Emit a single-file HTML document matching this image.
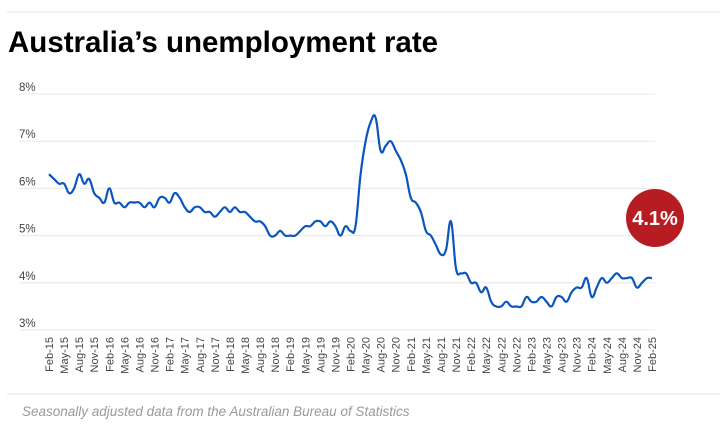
<!DOCTYPE html>
<html><head><meta charset="utf-8"><style>
body{margin:0;background:#fff;width:726px;height:431px;overflow:hidden;font-family:"Liberation Sans",Arial,sans-serif}
</style></head><body>
<svg width="726" height="431" viewBox="0 0 726 431">
<line x1="7" y1="12" x2="720" y2="12" stroke="#e3e3e3" stroke-width="1"/>
<text x="8" y="52" font-size="29.5" font-weight="bold" fill="#000">Australia’s unemployment rate</text>
<g id="grid"></g>
<g id="yl"></g>
<g id="xl"></g>
<path id="line" fill="none" stroke="#0b55bd" stroke-width="2.2" stroke-linejoin="round"/>
<g>
<circle cx="655" cy="218" r="29" fill="#b71c22"/>
<text x="655" y="225" font-size="20" font-weight="bold" fill="#fff" text-anchor="middle">4.1%</text>
</g>
<line x1="7" y1="394" x2="720" y2="394" stroke="#e3e3e3" stroke-width="1"/>
<text x="22" y="416" font-size="13.5" font-style="italic" fill="#999">Seasonally adjusted data from the Australian Bureau of Statistics</text>
</svg>
<script>
const yTicks=[3,4,5,6,7,8];
const months=["Feb","May","Aug","Nov"];
const values=[6.3,6.2,6.1,6.1,5.9,6.0,6.3,6.1,6.2,5.9,5.8,5.7,6.0,
5.7,5.7,5.6,5.7,5.7,5.7,5.6,5.7,5.6,5.8,5.8,5.7,5.9,
5.8,5.6,5.5,5.6,5.6,5.5,5.5,5.4,5.5,5.6,5.5,5.6,5.5,5.5,5.4,5.3,5.3,5.2,
5.0,5.0,5.1,5.0,5.0,5.0,5.1,5.2,5.2,5.3,5.3,5.2,5.3,5.2,5.0,5.2,5.1,5.2,
6.3,7.0,7.4,7.5,6.8,6.9,7.0,6.8,6.6,6.3,5.8,
5.7,5.5,5.1,5.0,4.8,4.6,4.7,5.3,4.3,4.2,4.2,4.0,4.0,3.8,3.9,
3.6,3.5,3.5,3.6,3.5,3.5,3.5,3.7,3.6,3.6,3.7,3.6,3.5,3.7,3.7,3.6,3.8,3.9,3.9,
4.1,3.7,3.9,4.1,4.0,4.1,4.2,4.1,4.1,4.1,3.9,4.0,4.1,4.1];
const NS="http://www.w3.org/2000/svg";
const x=i=>49+i*(652-49)/120;
const y=v=>330-(v-3)*47.2;
const grid=document.getElementById('grid'),yl=document.getElementById('yl'),xl=document.getElementById('xl');
yTicks.forEach(t=>{
 const l=document.createElementNS(NS,'line');
 
 
 l.setAttribute('x1',19);l.setAttribute('x2',655);l.setAttribute('y1',y(t));l.setAttribute('y2',y(t));
 l.setAttribute('stroke','#e8e8e8');l.setAttribute('stroke-width','1');grid.appendChild(l);
 const tx=document.createElementNS(NS,'text');
 
 
 tx.setAttribute('x',19);tx.setAttribute('y',y(t)-3);tx.setAttribute('font-size','11.5');tx.setAttribute('fill','#444');
 tx.textContent=t+'%';yl.appendChild(tx);
});
for(let i=0;i<values.length;i+=3){
 const yr=15+Math.floor((i+1)/12);
 const lab=months[(i/3)%4]+'-'+yr;
 const tx=document.createElementNS(NS,'text');
 
 
 const cx=x(i)+4;
 tx.setAttribute('transform','translate('+cx+',337) rotate(-90)');
 tx.setAttribute('text-anchor','end');tx.setAttribute('font-size','11');tx.setAttribute('fill','#444');
 tx.textContent=lab;xl.appendChild(tx);
}
const pts=values.map((v,i)=>[x(i),y(v)]);
let d='M'+pts[0][0].toFixed(1)+' '+pts[0][1].toFixed(1);
const k=0.2;
for(let i=0;i<pts.length-1;i++){
 const p0=pts[Math.max(0,i-1)],p1=pts[i],p2=pts[i+1],p3=pts[Math.min(pts.length-1,i+2)];
 const c1=[p1[0]+(p2[0]-p0[0])*k,p1[1]+(p2[1]-p0[1])*k];
 const c2=[p2[0]-(p3[0]-p1[0])*k,p2[1]-(p3[1]-p1[1])*k];
 d+=' C'+c1.map(n=>n.toFixed(1)).join(' ')+' '+c2.map(n=>n.toFixed(1)).join(' ')+' '+p2.map(n=>n.toFixed(1)).join(' ');
}
document.getElementById('line').setAttribute('d',d);
</script>
</body></html>
